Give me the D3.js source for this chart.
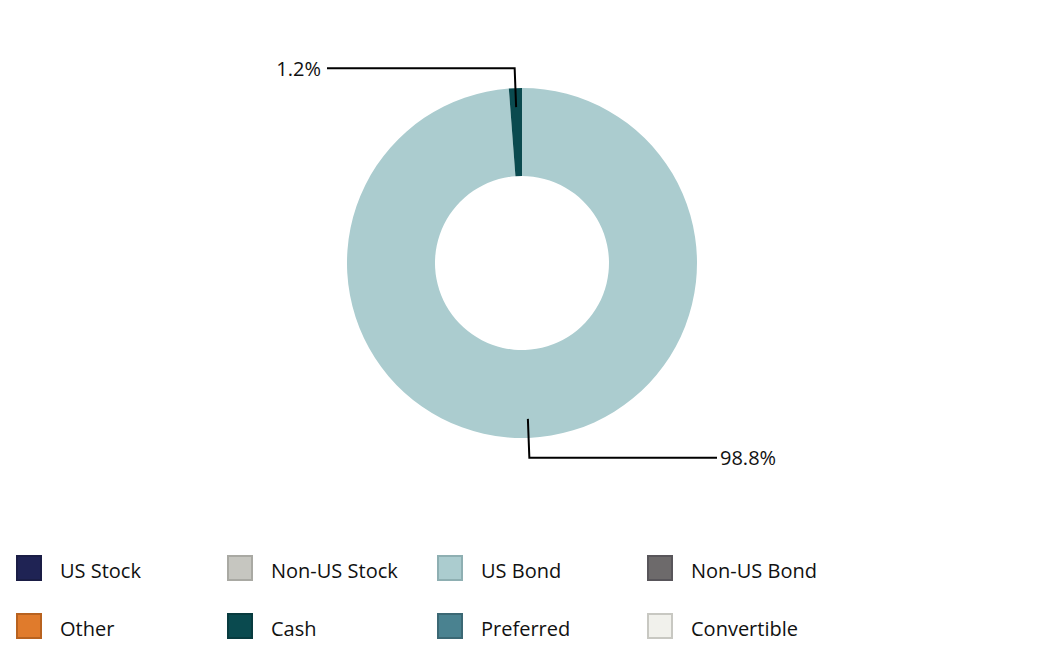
<!DOCTYPE html>
<html>
<head>
<meta charset="utf-8">
<script src="https://cdn.jsdelivr.net/npm/d3@7"></script>
<style>
  body { margin: 0; background: #fff; }
  svg { display: block; font-family: "Open Sans", "Noto Sans", sans-serif; }
</style>
</head>
<body>
<svg id="chart"></svg>
<script>
// categories shown in the legend (row by row)
const categories = ["US Stock", "Non-US Stock", "US Bond", "Non-US Bond",
                    "Other", "Cash", "Preferred", "Convertible"];
const colors = ["#1f2354", "#c6c6c0", "#abcccf", "#6d6a6b",
                "#e07b2c", "#0a4a4f", "#4a8290", "#f1f1ec"];
const borders = ["#1a1d45", "#a9a9a3", "#8eafb2", "#58555a",
                 "#b8621f", "#083b3f", "#3b6874", "#c8c8c2"];

// slices actually drawn in the donut (in drawing order, clockwise from top)
const sliceNames = ["US Bond", "Cash"];
const sliceValues = [98.8, 1.2];
const sliceLabels = ["98.8%", "1.2%"];

const width = 1047, height = 646;
const cx = 522, cy = 263;
const outerR = 175, innerR = 87;

const svg = d3.select("#chart").attr("width", width).attr("height", height);

const color = d3.scaleOrdinal().domain(categories).range(colors);

const pieData = sliceNames.map((name, i) => ({ name, value: sliceValues[i], label: sliceLabels[i] }));
const pie = d3.pie().value((d) => d.value).sort(null);
const arc = d3.arc().innerRadius(innerR).outerRadius(outerR);

const g = svg.append("g").attr("transform", `translate(${cx},${cy})`);

g.selectAll("path.slice")
  .data(pie(pieData))
  .enter()
  .append("path")
  .attr("class", "slice")
  .attr("d", arc)
  .attr("fill", (d) => color(d.data.name));

// leader lines: from inside the slice, out past the ring, then horizontal
const startR = 156, bendR = 195, lineEnd = 195;

const labels = g.selectAll("g.label")
  .data(pie(pieData))
  .enter()
  .append("g")
  .attr("class", "label");

labels.append("polyline")
  .attr("points", (d) => {
    const a = (d.startAngle + d.endAngle) / 2;
    const x0 = Math.sin(a) * startR, y0 = -Math.cos(a) * startR;
    const x1 = Math.sin(a) * bendR, y1 = -Math.cos(a) * bendR;
    const side = Math.sin(a) >= 0 ? 1 : -1;
    return [[x0, y0], [x1, y1], [side * lineEnd, y1]].join(" ");
  })
  .attr("fill", "none")
  .attr("stroke", "#000")
  .attr("stroke-width", 2);

labels.append("text")
  .attr("x", (d) => {
    const a = (d.startAngle + d.endAngle) / 2;
    return Math.sin(a) >= 0 ? lineEnd + 3 : -lineEnd - 6;
  })
  .attr("y", (d) => {
    const a = (d.startAngle + d.endAngle) / 2;
    return -Math.cos(a) * bendR;
  })
  .attr("dy", "0.38em")
  .attr("text-anchor", (d) => Math.sin((d.startAngle + d.endAngle) / 2) >= 0 ? "start" : "end")
  .attr("font-size", "20px")
  .attr("fill", "#111")
  .text((d) => d.data.label);

// legend, 4 columns x 2 rows
const colX = [16, 227, 437, 647];
const rowY = [555, 613];

const legend = svg.selectAll("g.legend")
  .data(categories)
  .enter()
  .append("g")
  .attr("class", "legend")
  .attr("transform", (d, i) => `translate(${colX[i % 4]},${rowY[Math.floor(i / 4)]})`);

legend.append("rect")
  .attr("x", 1)
  .attr("y", 1)
  .attr("width", 24)
  .attr("height", 24)
  .attr("fill", (d) => color(d))
  .attr("stroke", (d, i) => borders[i])
  .attr("stroke-width", 2);

legend.append("text")
  .attr("x", 44)
  .attr("y", 16)
  .attr("dy", "0.35em")
  .attr("font-size", "20px")
  .attr("fill", "#111")
  .text((d) => d);
</script>
</body>
</html>
